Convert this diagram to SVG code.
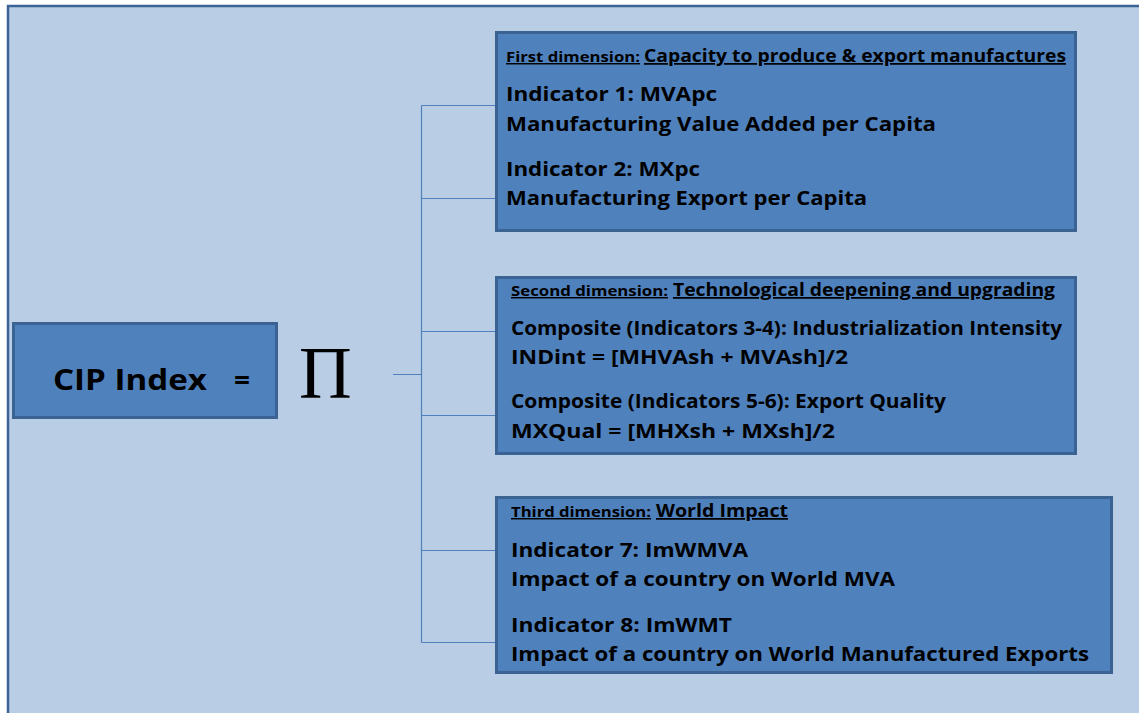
<svg xmlns="http://www.w3.org/2000/svg" width="1139" height="713" viewBox="0 0 1139 713">
<style>
.box{fill:#4F81BD;stroke:#3A6292;stroke-width:3}
.t{font-family:"Open Sans","Liberation Sans",sans-serif;font-weight:bold;fill:#000}
.b{font-size:19.5px}
.s{font-size:14.5px}
.h{font-size:17.5px}
.u{text-decoration:underline}
.c{stroke:#4F81BD;stroke-width:1.2;fill:none}
</style>
<rect x="0" y="0" width="1139" height="713" fill="#FFFFFF"/>
<rect id="panel" x="8" y="6" width="1140" height="720" fill="#B9CDE5" stroke="#3B6395" stroke-width="2.5"/>
<g id="connectors">
<path class="c" d="M393 374.5H421.5M421.5 105.5V642.5M421.5 105.5H495M421.5 198.5H495M421.5 331.5H495M421.5 415.5H495M421.5 550.5H495M421.5 642.5H495"/>
</g>
<g id="cip">
<rect class="box" x="13.5" y="323.5" width="263" height="94"/>
<text class="t" x="53" y="390" font-size="28" textLength="154" lengthAdjust="spacingAndGlyphs">CIP Index</text>
<text class="t" x="234" y="390" font-size="28">=</text>
</g>
<g id="pi">
<text x="299" y="398" font-family="Liberation Serif,serif" font-size="73" fill="#000">Π</text>
</g>
<g id="dim1">
<rect class="box" x="496.5" y="32.5" width="579" height="198"/>
<text class="t u" y="62"><tspan class="s" x="506" textLength="134" lengthAdjust="spacingAndGlyphs">First dimension:</tspan><tspan class="h" x="644" textLength="422" lengthAdjust="spacingAndGlyphs">Capacity to produce &amp; export manufactures</tspan></text>
<text class="t b" x="506" y="101" textLength="211" lengthAdjust="spacingAndGlyphs">Indicator 1: MVApc</text>
<text class="t b" x="506" y="131" textLength="430" lengthAdjust="spacingAndGlyphs">Manufacturing Value Added per Capita</text>
<text class="t b" x="506" y="176" textLength="194" lengthAdjust="spacingAndGlyphs">Indicator 2: MXpc</text>
<text class="t b" x="506" y="205" textLength="361" lengthAdjust="spacingAndGlyphs">Manufacturing Export per Capita</text>
</g>
<g id="dim2">
<rect class="box" x="496.5" y="277.5" width="579" height="176"/>
<text class="t u" y="296"><tspan class="s" x="511" textLength="157" lengthAdjust="spacingAndGlyphs">Second dimension:</tspan><tspan class="h" x="673" textLength="382" lengthAdjust="spacingAndGlyphs">Technological deepening and upgrading</tspan></text>
<text class="t b" x="511" y="335" textLength="551" lengthAdjust="spacingAndGlyphs">Composite (Indicators 3-4): Industrialization Intensity</text>
<text class="t b" x="511" y="364" textLength="337" lengthAdjust="spacingAndGlyphs">INDint = [MHVAsh + MVAsh]/2</text>
<text class="t b" x="511" y="408" textLength="435" lengthAdjust="spacingAndGlyphs">Composite (Indicators 5-6): Export Quality</text>
<text class="t b" x="511" y="438" textLength="324" lengthAdjust="spacingAndGlyphs">MXQual = [MHXsh + MXsh]/2</text>
</g>
<g id="dim3">
<rect class="box" x="496.5" y="497.5" width="615" height="175"/>
<text class="t u" y="517"><tspan class="s" x="511" textLength="140" lengthAdjust="spacingAndGlyphs">Third dimension:</tspan><tspan class="h" x="656" textLength="132" lengthAdjust="spacingAndGlyphs">World Impact</tspan></text>
<text class="t b" x="511" y="557" textLength="237" lengthAdjust="spacingAndGlyphs">Indicator 7: ImWMVA</text>
<text class="t b" x="511" y="586" textLength="384" lengthAdjust="spacingAndGlyphs">Impact of a country on World MVA</text>
<text class="t b" x="511" y="632" textLength="221" lengthAdjust="spacingAndGlyphs">Indicator 8: ImWMT</text>
<text class="t b" x="511" y="661" textLength="578" lengthAdjust="spacingAndGlyphs">Impact of a country on World Manufactured Exports</text>
</g>
</svg>
